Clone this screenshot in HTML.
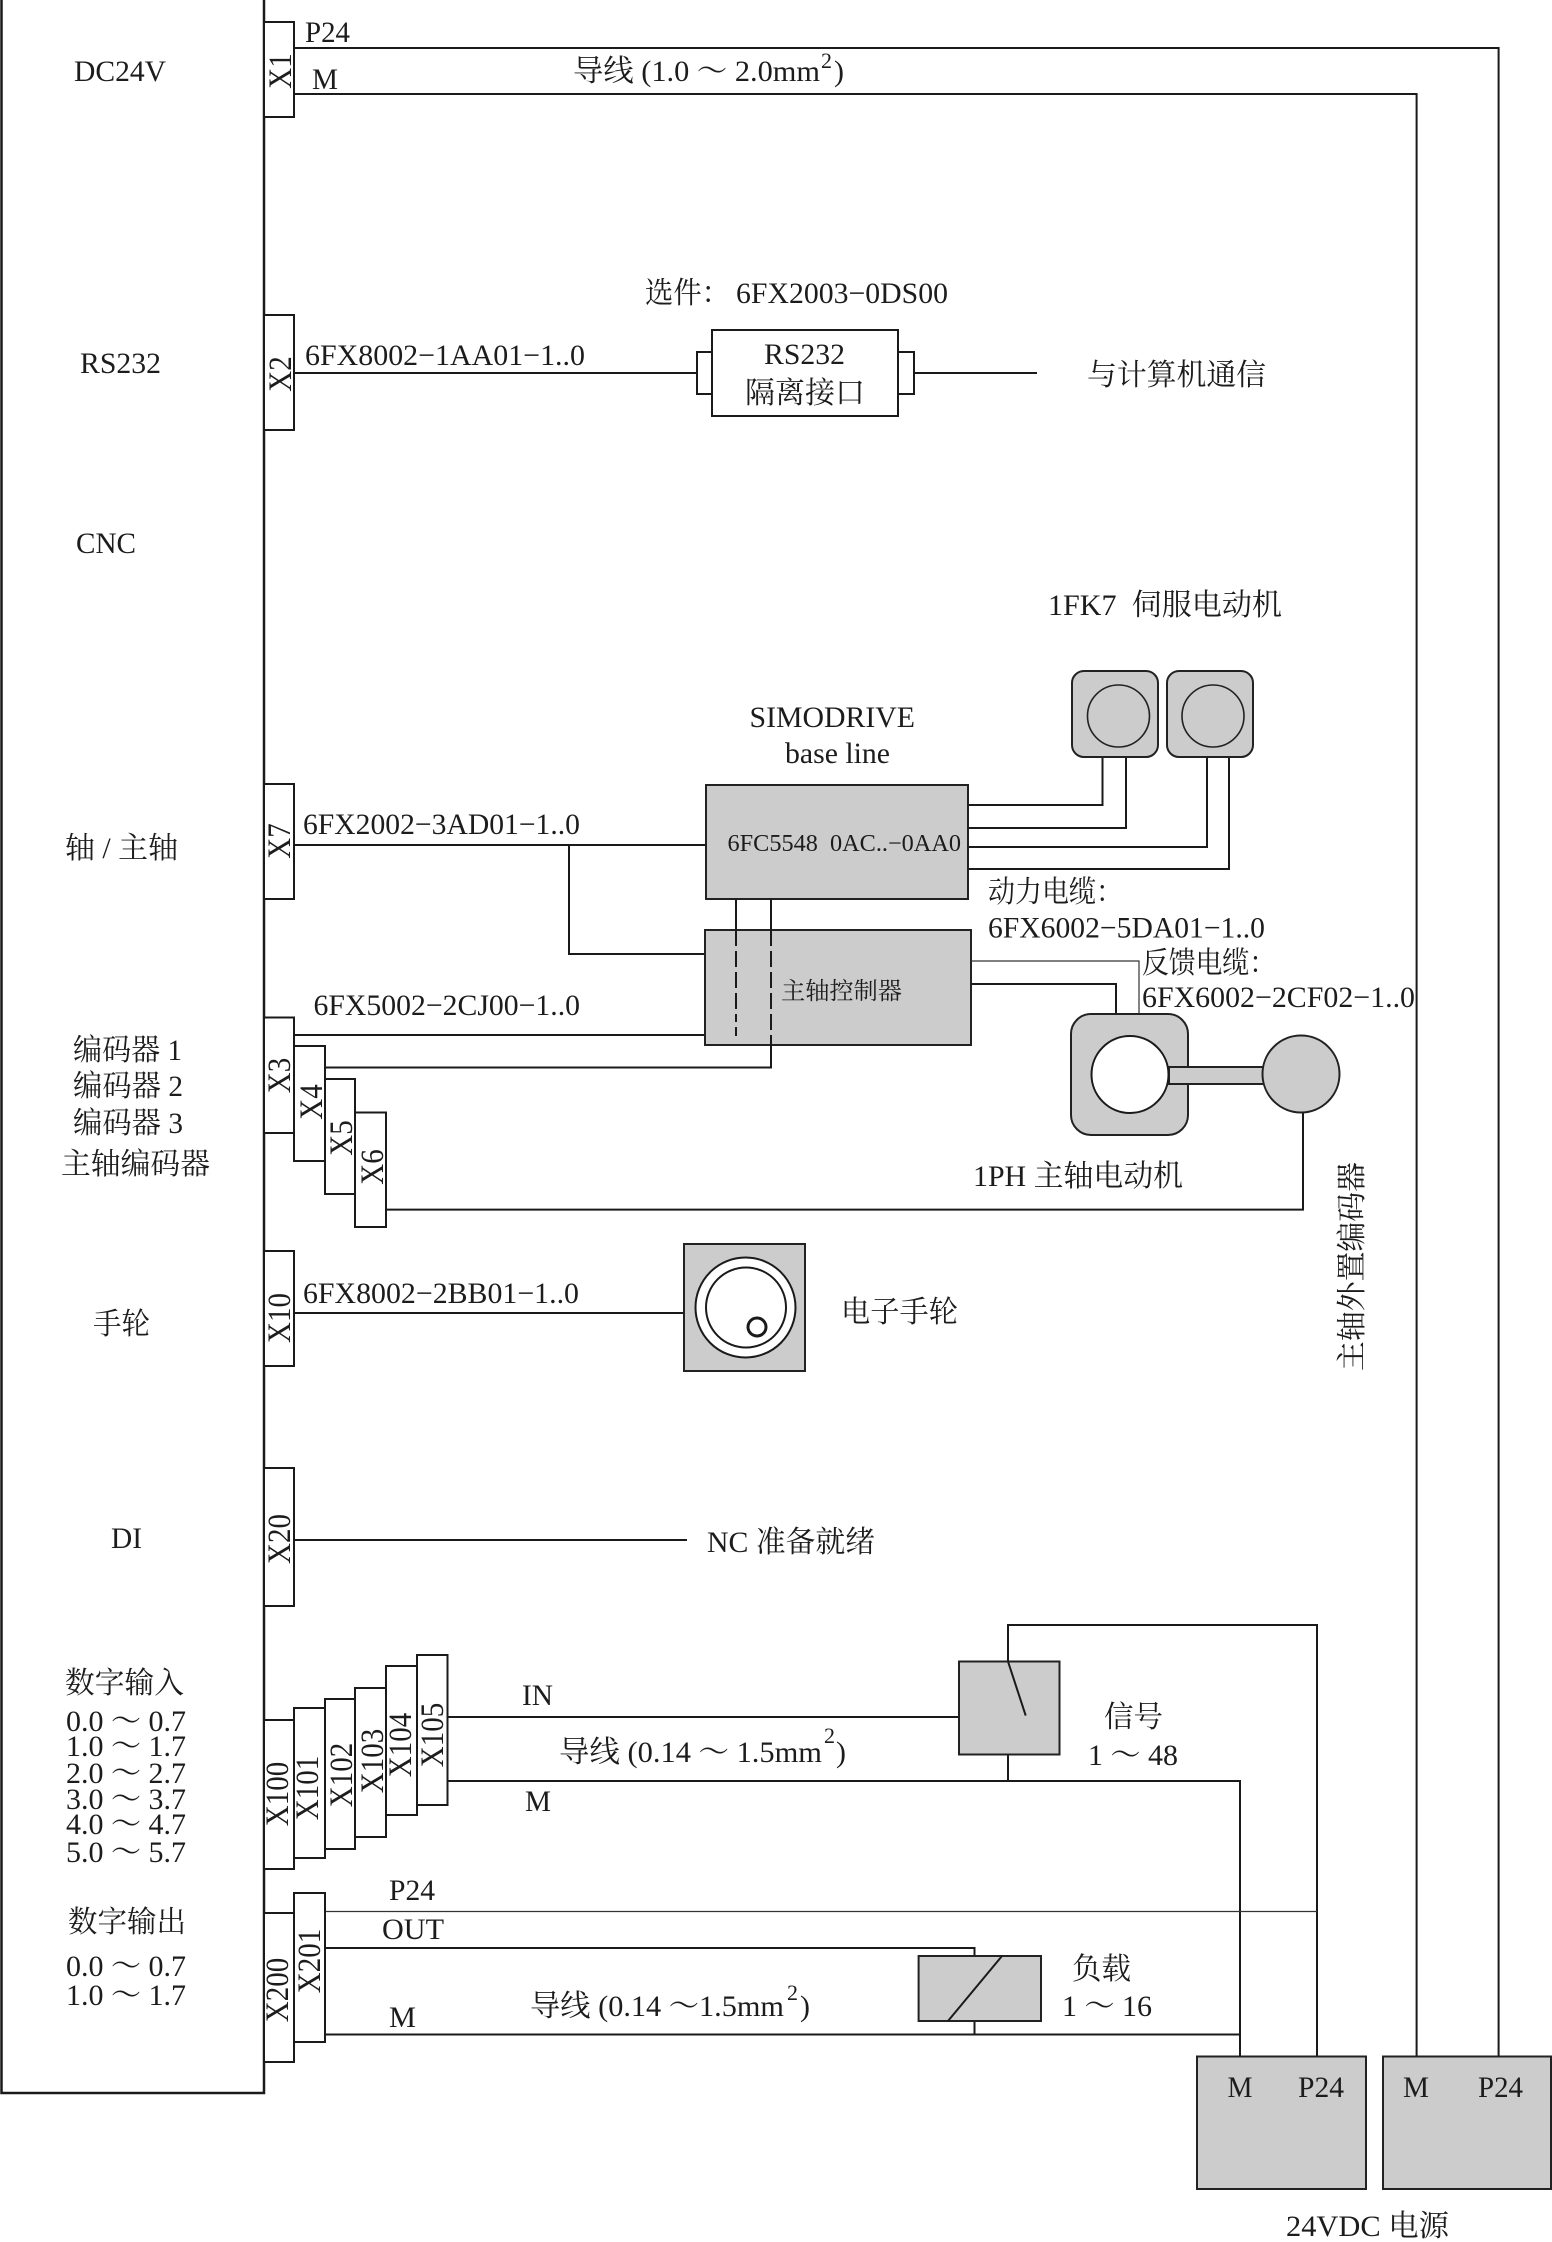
<!DOCTYPE html>
<html><head><meta charset="utf-8"><style>
html,body{margin:0;padding:0;background:#fff}
svg{display:block}
text{font-family:"Liberation Serif","Noto Serif CJK SC",serif;font-size:30px;fill:#1c1c1c}
.l{fill:none;stroke:#1a1a1a;stroke-width:2}
.t{fill:none;stroke:#333;stroke-width:1.2}
.w{fill:#fff;stroke:#1a1a1a;stroke-width:2}
.g{fill:#ccc;stroke:#222;stroke-width:2}
</style></head><body>
<svg xmlns="http://www.w3.org/2000/svg" width="1552" height="2242" viewBox="0 0 1552 2242">
<rect width="1552" height="2242" fill="#fff"/>

<!-- main box -->
<path d="M1.5 0V2093H264V0" class="l" style="stroke-width:2.5"/>

<!-- connectors -->
<path class="l" d="M294 48H1498.6V2056.5"/>
<path class="l" d="M294 94H1416.6V2056.5"/>
<path class="l" d="M294 373H697"/>
<path class="l" d="M914 373H1037"/>
<path class="l" d="M294 845H706"/>
<path class="l" d="M569 845V954H705"/>
<path class="l" d="M294 1035H737"/>
<path class="l" d="M325 1067.5H772"/>
<path class="l" d="M386 1209.6H1303V1113"/>
<path class="l" d="M294 1313H684"/>
<path class="l" d="M294 1540H687"/>
<path class="l" d="M447 1717H959"/>
<path class="l" d="M447 1781H1240V2056.5"/>
<path class="l" d="M1008 1754V1781"/>
<path class="l" d="M1008 1661V1625H1317V2056.5"/>
<path class="t" d="M325 1911.5H1317"/>
<path class="l" d="M325 1948H974.5V1956"/>
<path class="l" d="M325 2034.5H1240"/>
<path class="l" d="M974.5 2021V2034.5"/>

<!-- RS232 isolator -->
<rect class="w" x="697" y="352" width="16" height="42"/>
<rect class="w" x="898" y="352" width="16" height="42"/>
<rect class="w" x="712" y="330" width="186" height="86"/>

<!-- drives -->
<path class="l" d="M968 805H1102.5V757"/>
<path class="l" d="M968 828H1126V757"/>
<path class="l" d="M968 847H1207V757"/>
<path class="l" d="M968 869H1229V757"/>
<rect class="g" x="706" y="785" width="262" height="114"/>
<rect class="g" x="705" y="930" width="266" height="115"/>
<path class="l" d="M736 899V930"/>
<path class="l" d="M771 899V930"/>
<path class="l" d="M736 930V1022" stroke-dasharray="16 5"/>
<path class="l" d="M736 1027V1036"/>
<path class="l" d="M771 930V1050" stroke-dasharray="16 5"/>
<path class="l" d="M771 1045V1068.5"/>
<path class="t" d="M971 961H1139V1014"/>
<path class="l" d="M971 984H1116V1014"/>

<!-- servo motors -->
<rect class="g" x="1072" y="671" width="86" height="86" rx="12"/>
<ellipse class="g" style="stroke-width:1.6" cx="1118.5" cy="716" rx="31" ry="31"/>
<rect class="g" x="1167" y="671" width="86" height="86" rx="12"/>
<ellipse class="g" style="stroke-width:1.6" cx="1213" cy="716" rx="31" ry="31"/>

<!-- spindle motor -->
<rect class="g" x="1071" y="1014" width="117" height="121" rx="20"/>
<rect class="g" x="1169" y="1067" width="95" height="17"/>
<circle cx="1130" cy="1074.5" r="38.5" class="w"/>
<circle cx="1301" cy="1074" r="38.5" class="g"/>

<!-- handwheel -->
<rect class="g" x="684" y="1244" width="121" height="127"/>
<circle cx="745.5" cy="1307.5" r="50" class="w"/>
<circle cx="746" cy="1307.5" r="40" class="w"/>
<circle cx="757" cy="1327" r="9" fill="#fff" stroke="#1a1a1a" stroke-width="3"/>

<!-- switch and relay -->
<rect class="g" x="959" y="1661.5" width="100.5" height="93"/>
<path class="l" d="M1008 1661.5L1025.7 1715.6"/>
<rect class="g" x="918.6" y="1956" width="122.4" height="65"/>
<path class="l" d="M948 2021L1002 1956"/>

<!-- power supplies -->
<rect class="g" x="1197" y="2056.5" width="169" height="132.5"/>
<rect class="g" x="1383" y="2056.5" width="168" height="132.5"/>

<!-- X boxes -->
<rect class="w" x="264" y="22" width="30" height="95"/>
<rect class="w" x="264" y="315" width="30" height="115"/>
<rect class="w" x="264" y="784" width="30" height="115"/>
<rect class="w" x="264" y="1017.5" width="30" height="115.5"/>
<rect class="w" x="294" y="1046" width="31" height="115"/>
<rect class="w" x="325" y="1079" width="30" height="115"/>
<rect class="w" x="355" y="1112.5" width="31" height="114.5"/>
<rect class="w" x="264" y="1251" width="30" height="115"/>
<rect class="w" x="264" y="1468" width="30" height="138"/>
<rect class="w" x="264" y="1720" width="30" height="149"/>
<rect class="w" x="294" y="1708" width="31" height="150"/>
<rect class="w" x="325" y="1699" width="30" height="150"/>
<rect class="w" x="355" y="1688" width="31" height="149"/>
<rect class="w" x="386" y="1666" width="31" height="149"/>
<rect class="w" x="417" y="1655" width="30.5" height="150"/>
<rect class="w" x="264" y="1913" width="30" height="149"/>
<rect class="w" x="294" y="1893" width="31" height="149"/>

<!-- X labels -->
<g text-anchor="middle">
<text style="font-size:29px" transform="translate(291 71) rotate(-90) scale(1 1.12)">X1</text>
<text style="font-size:29px" transform="translate(291 374) rotate(-90) scale(1 1.12)">X2</text>
<text style="font-size:29px" transform="translate(290 841) rotate(-90) scale(1 1.12)">X7</text>
<text style="font-size:29px" transform="translate(290 1075.5) rotate(-90) scale(1 1.12)">X3</text>
<text style="font-size:29px" transform="translate(322 1102) rotate(-90) scale(1 1.12)">X4</text>
<text style="font-size:29px" transform="translate(352 1138) rotate(-90) scale(1 1.12)">X5</text>
<text style="font-size:29px" transform="translate(383 1167) rotate(-90) scale(1 1.12)">X6</text>
<text style="font-size:29px" transform="translate(290 1318) rotate(-90) scale(1 1.12)">X10</text>
<text style="font-size:29px" transform="translate(290 1539) rotate(-90) scale(1 1.12)">X20</text>
<text style="font-size:29px" transform="translate(288 1794) rotate(-90) scale(1 1.12)">X100</text>
<text style="font-size:29px" transform="translate(318 1788) rotate(-90) scale(1 1.12)">X101</text>
<text style="font-size:29px" transform="translate(352 1775) rotate(-90) scale(1 1.12)">X102</text>
<text style="font-size:29px" transform="translate(383 1761) rotate(-90) scale(1 1.12)">X103</text>
<text style="font-size:29px" transform="translate(411 1745) rotate(-90) scale(1 1.12)">X104</text>
<text style="font-size:29px" transform="translate(443 1735) rotate(-90) scale(1 1.12)">X105</text>
<text style="font-size:29px" transform="translate(288 1990) rotate(-90) scale(1 1.12)">X200</text>
<text style="font-size:29px" transform="translate(320 1961) rotate(-90) scale(1 1.12)">X201</text>
</g>

<!-- left labels -->
<text x="74" y="81" textLength="92" lengthAdjust="spacingAndGlyphs">DC24V</text>
<text x="80" y="373" textLength="81" lengthAdjust="spacingAndGlyphs">RS232</text>
<text x="76" y="553" textLength="60" lengthAdjust="spacingAndGlyphs">CNC</text>
<text x="65" y="858" textLength="113" lengthAdjust="spacingAndGlyphs">轴 / 主轴</text>
<text x="73" y="1060" textLength="109" lengthAdjust="spacingAndGlyphs">编码器 1</text>
<text x="73" y="1096" textLength="110" lengthAdjust="spacingAndGlyphs">编码器 2</text>
<text x="73" y="1133" textLength="110" lengthAdjust="spacingAndGlyphs">编码器 3</text>
<text x="61" y="1174" textLength="149" lengthAdjust="spacingAndGlyphs">主轴编码器</text>
<text x="93" y="1334" textLength="57" lengthAdjust="spacingAndGlyphs">手轮</text>
<text x="111" y="1548" textLength="31" lengthAdjust="spacingAndGlyphs">DI</text>
<text x="65" y="1693" textLength="119" lengthAdjust="spacingAndGlyphs">数字输入</text>
<text x="66" y="1731" textLength="120" lengthAdjust="spacingAndGlyphs">0.0 ～ 0.7</text>
<text x="66" y="1756" textLength="120" lengthAdjust="spacingAndGlyphs">1.0 ～ 1.7</text>
<text x="66" y="1783" textLength="120" lengthAdjust="spacingAndGlyphs">2.0 ～ 2.7</text>
<text x="66" y="1809" textLength="120" lengthAdjust="spacingAndGlyphs">3.0 ～ 3.7</text>
<text x="66" y="1834" textLength="120" lengthAdjust="spacingAndGlyphs">4.0 ～ 4.7</text>
<text x="66" y="1862" textLength="120" lengthAdjust="spacingAndGlyphs">5.0 ～ 5.7</text>
<text x="68" y="1932" textLength="118" lengthAdjust="spacingAndGlyphs">数字输出</text>
<text x="66" y="1976" textLength="120" lengthAdjust="spacingAndGlyphs">0.0 ～ 0.7</text>
<text x="66" y="2005" textLength="120" lengthAdjust="spacingAndGlyphs">1.0 ～ 1.7</text>

<!-- wire labels -->
<text x="305" y="42" textLength="45" lengthAdjust="spacingAndGlyphs">P24</text>
<text x="312" y="89" textLength="26" lengthAdjust="spacingAndGlyphs">M</text>
<text x="573" y="81" textLength="247" lengthAdjust="spacingAndGlyphs">导线 (1.0 ～ 2.0mm</text>
<text x="821" y="68" style="font-size:22px">2</text>
<text x="834" y="81">)</text>

<text x="645" y="303" textLength="85" lengthAdjust="spacingAndGlyphs">选件：</text>
<text x="736" y="303" textLength="212" lengthAdjust="spacingAndGlyphs">6FX2003−0DS00</text>
<text x="305" y="365" textLength="280" lengthAdjust="spacingAndGlyphs">6FX8002−1AA01−1..0</text>
<text x="764" y="364" textLength="81" lengthAdjust="spacingAndGlyphs">RS232</text>
<text x="745" y="403" textLength="120" lengthAdjust="spacingAndGlyphs">隔离接口</text>
<text x="1087" y="385" textLength="179" lengthAdjust="spacingAndGlyphs">与计算机通信</text>

<text x="1048" y="615" textLength="234" lengthAdjust="spacingAndGlyphs">1FK7&#160;&#160;伺服电动机</text>
<text x="749.5" y="727" textLength="165.5" lengthAdjust="spacingAndGlyphs">SIMODRIVE</text>
<text x="785" y="763" textLength="105" lengthAdjust="spacingAndGlyphs">base line</text>
<text x="727.5" y="851" textLength="233.5" lengthAdjust="spacingAndGlyphs" style="font-size:24px">6FC5548&#160;&#160;0AC..−0AA0</text>
<text x="303" y="834" textLength="277" lengthAdjust="spacingAndGlyphs">6FX2002−3AD01−1..0</text>
<text x="988" y="902" textLength="135" lengthAdjust="spacingAndGlyphs">动力电缆：</text>
<text x="988" y="937.5" textLength="277" lengthAdjust="spacingAndGlyphs">6FX6002−5DA01−1..0</text>
<text x="1142" y="973" textLength="134" lengthAdjust="spacingAndGlyphs">反馈电缆：</text>
<text x="1142" y="1007" textLength="273" lengthAdjust="spacingAndGlyphs">6FX6002−2CF02−1..0</text>
<text x="781" y="999" textLength="121" lengthAdjust="spacingAndGlyphs" style="font-size:24px">主轴控制器</text>
<text x="313.5" y="1015" textLength="266.5" lengthAdjust="spacingAndGlyphs">6FX5002−2CJ00−1..0</text>
<text x="973" y="1186" textLength="210" lengthAdjust="spacingAndGlyphs">1PH 主轴电动机</text>
<text transform="translate(1362 1371) rotate(-90)" textLength="209" lengthAdjust="spacingAndGlyphs">主轴外置编码器</text>
<text x="303" y="1303" textLength="276" lengthAdjust="spacingAndGlyphs">6FX8002−2BB01−1..0</text>
<text x="841" y="1322" textLength="117" lengthAdjust="spacingAndGlyphs">电子手轮</text>
<text x="707" y="1552" textLength="168" lengthAdjust="spacingAndGlyphs">NC 准备就绪</text>

<text x="522" y="1705" textLength="31" lengthAdjust="spacingAndGlyphs">IN</text>
<text x="559" y="1762" textLength="263" lengthAdjust="spacingAndGlyphs">导线 (0.14 ～ 1.5mm</text>
<text x="824" y="1743" style="font-size:22px">2</text>
<text x="836" y="1762">)</text>
<text x="525" y="1811" textLength="26" lengthAdjust="spacingAndGlyphs">M</text>
<text x="1104" y="1727" textLength="59" lengthAdjust="spacingAndGlyphs">信号</text>
<text x="1088" y="1765" textLength="90" lengthAdjust="spacingAndGlyphs">1 ～ 48</text>
<text x="389" y="1900" textLength="46" lengthAdjust="spacingAndGlyphs">P24</text>
<text x="382" y="1939" textLength="62" lengthAdjust="spacingAndGlyphs">OUT</text>
<text x="389" y="2027" textLength="27" lengthAdjust="spacingAndGlyphs">M</text>
<text x="530" y="2016" textLength="254" lengthAdjust="spacingAndGlyphs">导线 (0.14 ～1.5mm</text>
<text x="787" y="2000" style="font-size:22px">2</text>
<text x="800" y="2016">)</text>
<text x="1072" y="1979" textLength="59" lengthAdjust="spacingAndGlyphs">负载</text>
<text x="1062" y="2016" textLength="90" lengthAdjust="spacingAndGlyphs">1 ～ 16</text>

<text x="1227.5" y="2097" textLength="25" lengthAdjust="spacingAndGlyphs">M</text>
<text x="1298" y="2097" textLength="46" lengthAdjust="spacingAndGlyphs">P24</text>
<text x="1403" y="2097" textLength="26" lengthAdjust="spacingAndGlyphs">M</text>
<text x="1478" y="2097" textLength="45" lengthAdjust="spacingAndGlyphs">P24</text>
<text x="1286" y="2236" textLength="163" lengthAdjust="spacingAndGlyphs">24VDC 电源</text>
</svg>
</body></html>
